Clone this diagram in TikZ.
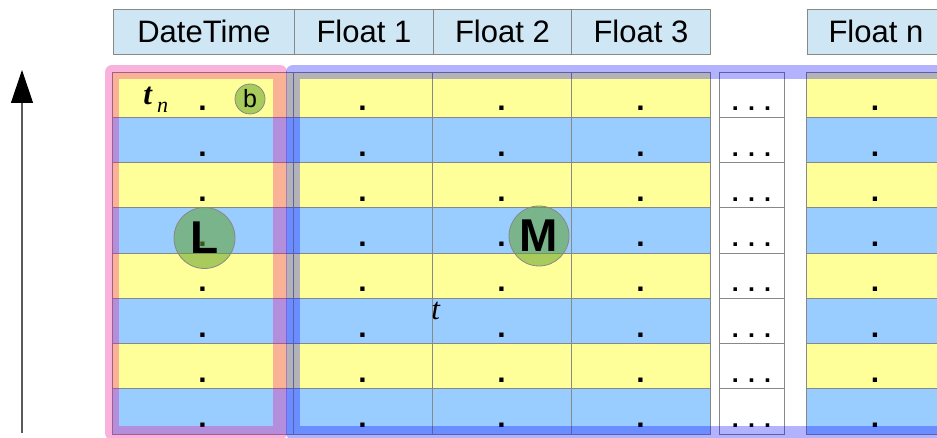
\documentclass[tikz,border=0pt]{standalone}
\usepackage{fontspec}
\setmainfont{Liberation Sans}
\newfontfamily\tfont{Liberation Serif}
\usetikzlibrary{arrows.meta}

\definecolor{rowY}{RGB}{255,255,153}
\definecolor{rowB}{RGB}{153,204,255}
\definecolor{headC}{RGB}{207,231,245}
\definecolor{gridC}{RGB}{136,136,136}
\definecolor{blobC}{RGB}{97,162,42}

\begin{document}
\begin{tikzpicture}[x=0.5pt, y=-0.5pt,
  head/.style={draw=gridC, fill=headC, minimum height=22.5pt, inner sep=0pt, anchor=north west,
    font=\fontsize{15.5}{18}\selectfont},
  cell/.style={draw=gridC},
  dot/.style={anchor=base, inner sep=0pt, font=\fontsize{15}{18}\selectfont\bfseries},
  dots/.style={dot, font=\fontsize{12.5}{14}\selectfont\bfseries},
  tlab/.style={anchor=base west, inner sep=0pt, font=\fontsize{15.5}{18}\selectfont\tfont\itshape},
  blob/.style={circle, draw=gridC, fill=blobC, fill opacity=0.55, text opacity=1, inner sep=0pt},
  frame/.style={line width=7pt, draw opacity=0.3, line join=round}]
\clip (0,0) rectangle (937,438);
% column headers
\newcommand{\hdr}[4]{\node[head, minimum width=#3] (#1) at (#2,9) {#4};}
\hdr{hdt}{113}{90.5pt}{DateTime}
\hdr{hf1}{294}{69.5pt}{Float 1}
\hdr{hf2}{433}{69pt}{Float 2}
\hdr{hf3}{571}{69.5pt}{Float 3}
\hdr{hfn}{807}{68.5pt}{Float n}
% rows of cells
\foreach \r in {0,...,7} {
  \pgfmathsetmacro{\yt}{72+45.25*\r}
  \ifodd\r \def\rc{rowB}\else \def\rc{rowY}\fi
  \foreach \xa/\xb in {112/293,293/432,432/571,571/710,806/944} {
    \filldraw[cell, fill=\rc] (\xa,\yt) rectangle (\xb,\yt+45.25);
    \node[dot] (c\xa-\r) at ({(\xa+\xb)/2},\yt+39) {.};}
  \filldraw[cell, fill=white] (719,\yt) rectangle (784,\yt+45.25);
  \node[dots] (e\r) at (751.5,\yt+39) {. . .};
}
% L and M frames
\draw[frame, magenta] (112,72) rectangle (280,433);
\draw[frame, blue] (293,72) rectangle (970,433);
\node[tlab] (tn) at (143,105) {{\bfseries t}\,\raisebox{-4pt}{\fontsize{11}{12}\selectfont n}};
\node[tlab] (tmid) at (431,320) {t};
\node[blob, minimum size=15pt, font=\fontsize{12.5}{14}\selectfont] (b) at (250,99) {b};
\node[blob, minimum size=30.5pt, font=\fontsize{23}{26}\selectfont\bfseries] (L) at (204.5,238) {L};
\node[blob, minimum size=30pt, font=\fontsize{23}{26}\selectfont\bfseries] (M) at (539,236) {M};
% time axis
\coordinate (ybot) at (22,433);
\coordinate (ytop) at (22,70);
\draw[line width=0.6pt, black!65, -{Triangle[length=16.5pt, width=11pt, color=black]}] (ybot) -- (ytop);
\end{tikzpicture}
\end{document}
